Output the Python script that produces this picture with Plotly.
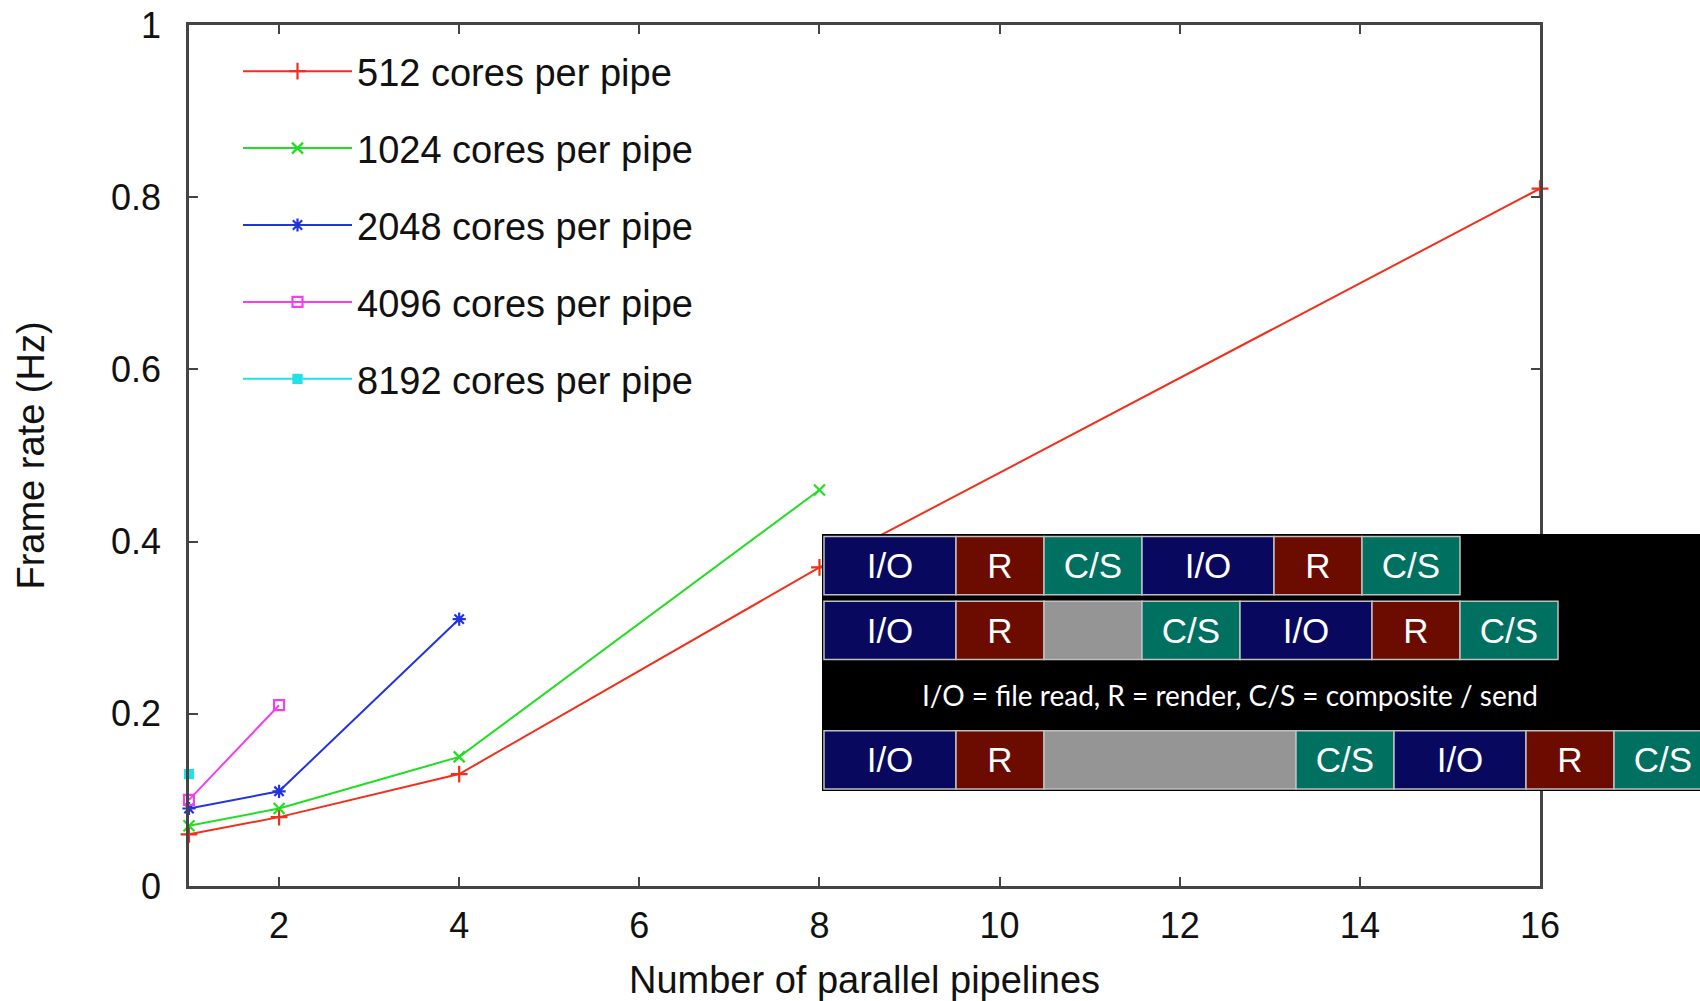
import numpy as np
import plotly.graph_objects as go

# ---------------- data ----------------
pipelines_512 = [1, 2, 4, 8, 16]
rate_512 = [0.06, 0.08, 0.13, 0.37, 0.81]
pipelines_1024 = [1, 2, 4, 8]
rate_1024 = [0.07, 0.09, 0.15, 0.46]
pipelines_2048 = [1, 2, 4]
rate_2048 = [0.09, 0.11, 0.31]
pipelines_4096 = [1, 2]
rate_4096 = [0.10, 0.21]
pipelines_8192 = [1]
rate_8192 = [0.13]

series_names = ["512 cores per pipe", "1024 cores per pipe", "2048 cores per pipe",
                "4096 cores per pipe", "8192 cores per pipe"]

x_tick_vals = [2, 4, 6, 8, 10, 12, 14, 16]
y_tick_vals = [0, 0.2, 0.4, 0.6, 0.8, 1]
y_tick_text = ["0", "0.2", "0.4", "0.6", "0.8", "1"]

# pipeline schedule inset (stage labels and durations)
row1_stages = ["I/O", "R", "C/S", "I/O", "R", "C/S"]
row1_durations = [1.32, 0.88, 0.98, 1.32, 0.88, 0.98]
row2_stages = ["I/O", "R", "", "C/S", "I/O", "R", "C/S"]
row2_durations = [1.32, 0.88, 0.98, 0.98, 1.32, 0.88, 0.98]
row3_stages = ["I/O", "R", "", "C/S", "I/O", "R", "C/S"]
row3_durations = [1.32, 0.88, 2.52, 0.98, 1.32, 0.88, 0.98]
row_positions = [0, 1, 3]
caption = "I/O = file read, R = render, C/S = composite / send"

# ---------------- styles ----------------
W, H = 1700, 1001
FONT = "Liberation Sans, Arial, Helvetica, sans-serif"
colors = ["#f0301c", "#22dd22", "#2233e0", "#f040f0", "#22e0e8"]
symbols = ["cross-thin", "x-thin", "asterisk", "square-open", "square"]
msizes = [12, 11, 11, 10, 8]
stage_colors = {"I/O": "#08085e", "R": "#6c0b00", "C/S": "#007060", "": "#959595"}

# main plot area in pixels
L, R_, T, B = 189, 1540, 25, 886
# inset area in pixels
IL, IR, IT, IB = 822, 1700, 534, 791

fig = go.Figure()

series = [(pipelines_512, rate_512), (pipelines_1024, rate_1024), (pipelines_2048, rate_2048),
          (pipelines_4096, rate_4096), (pipelines_8192, rate_8192)]
for i, (xs, ys) in enumerate(series):
    fig.add_trace(go.Scatter(
        x=xs, y=ys, mode="lines+markers", name=series_names[i],
        legendgroup=str(i),
        line=dict(color=colors[i], width=2),
        marker=dict(symbol=symbols[i], size=msizes[i], color=colors[i],
                    line=dict(color=colors[i], width=2.2)),
        cliponaxis=False, hoverinfo="skip",
        xaxis="x", yaxis="y",
    ))

# inset bars
x2_range = [-0.02, 8.76]
y2_range = [3.48, -0.49]
for stages, durs, ypos in [(row1_stages, row1_durations, row_positions[0]),
                           (row2_stages, row2_durations, row_positions[1]),
                           (row3_stages, row3_durations, row_positions[2])]:
    durs = np.array(durs)
    bases = np.concatenate([[0], np.cumsum(durs)[:-1]])
    fig.add_trace(go.Bar(
        x=durs, base=bases, y=[ypos] * len(durs), orientation="h",
        width=0.9, text=stages, textposition="inside", insidetextanchor="middle",
        constraintext="none",
        textfont=dict(color="white", size=35, family=FONT),
        marker=dict(color=[stage_colors[s] for s in stages],
                    line=dict(color="#c0c0c0", width=1.5)),
        showlegend=False, hoverinfo="skip", xaxis="x2", yaxis="y2",
    ))

axis_common = dict(
    showline=True, linecolor="#444444", linewidth=2.5, mirror="allticks",
    ticks="inside", ticklen=9, tickwidth=1.5, tickcolor="#444444",
    showgrid=False, zeroline=False,
    tickfont=dict(family=FONT, size=36, color="#111111"),
)

fig.update_layout(
    width=W, height=H,
    margin=dict(l=0, r=0, t=0, b=0),
    paper_bgcolor="white", plot_bgcolor="white",
    xaxis=dict(domain=[L / W, R_ / W], range=[1, 16], tickvals=x_tick_vals,
               ticklabelstandoff=6,
               title=dict(text="Number of parallel pipelines",
                          font=dict(family=FONT, size=38, color="#111111"), standoff=47),
               automargin=False, **axis_common),
    yaxis=dict(domain=[1 - B / H, 1 - T / H], range=[0, 1], tickvals=y_tick_vals,
               ticktext=y_tick_text, ticklabelstandoff=18,
               title=dict(text="Frame rate (Hz)",
                          font=dict(family=FONT, size=38, color="#111111"), standoff=55),
               automargin=False, **axis_common),
    xaxis2=dict(domain=[IL / W, IR / W], range=x2_range, visible=False, fixedrange=True,
                anchor="y2"),
    yaxis2=dict(domain=[1 - IB / H, 1 - IT / H], range=y2_range, visible=False,
                fixedrange=True, anchor="x2"),
    barmode="overlay",
    showlegend=True,
    legend=dict(x=238 / W, y=1 - 40 / H, xanchor="left", yanchor="top",
                font=dict(family=FONT, size=38, color="#111111"),
                bgcolor="rgba(0,0,0,0)", itemwidth=109, traceorder="grouped",
                tracegroupgap=24.5),
    shapes=[dict(type="rect", xref="x2", yref="y2", layer="below",
                 x0=x2_range[0], x1=x2_range[1], y0=y2_range[1], y1=y2_range[0],
                 fillcolor="black", line=dict(width=0))],
    annotations=[dict(text=caption, xref="x2 domain", yref="y2", x=0.465, y=2,
                      showarrow=False, xanchor="center", yanchor="middle",
                      font=dict(family="Lato, sans-serif", size=28, color="white"))],
)

fig.write_html("out.html", config={"displayModeBar": False},
               post_script="document.body.style.margin='0px';document.body.style.overflow='hidden';")
